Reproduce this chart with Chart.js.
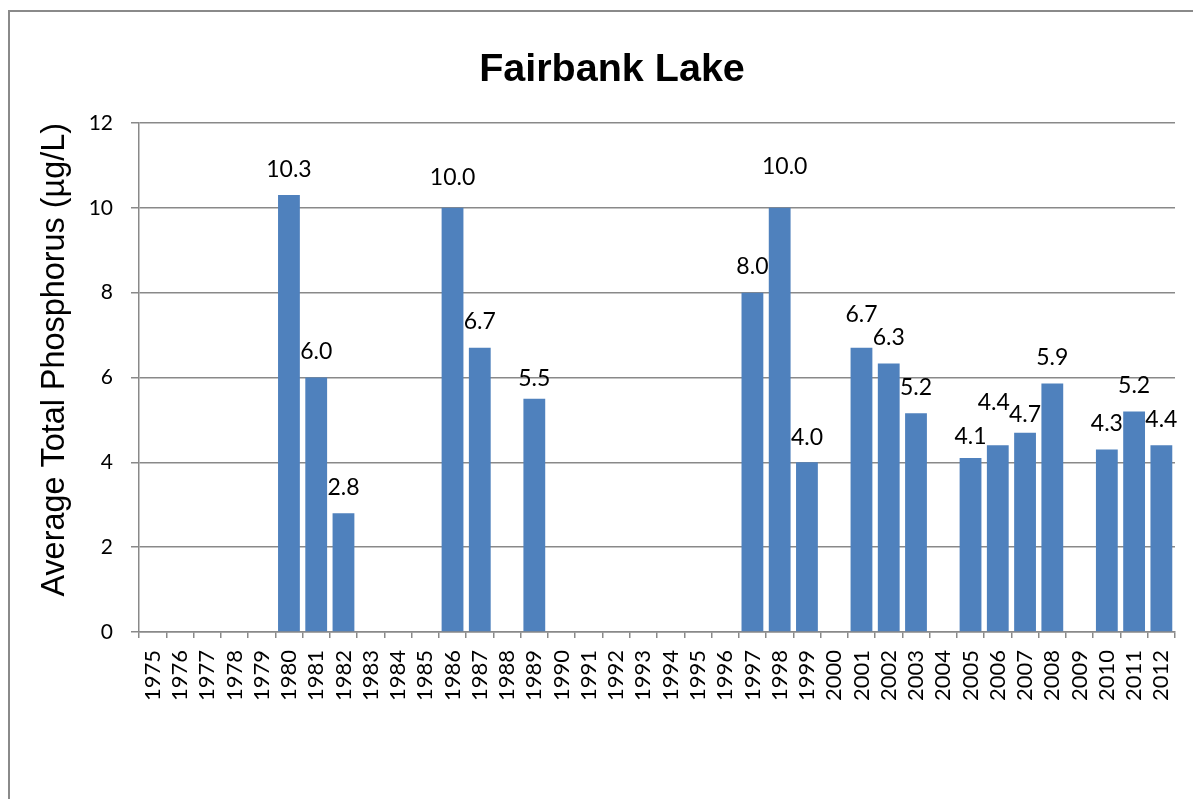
<!DOCTYPE html>
<html>
<head>
<meta charset="utf-8">
<script src="https://cdn.jsdelivr.net/npm/chart.js@4/dist/chart.umd.min.js"></script>
<style>
  html, body { margin: 0; padding: 0; background: #fff; overflow: hidden; }
  #frame { position: absolute; left: 8px; top: 10px; width: 1300px; height: 900px; border: 2px solid #8a8a8a; }
  #wrap { position: absolute; left: 0; top: 0; width: 1224px; height: 799px; }
</style>
</head>
<body>
<div id="frame"></div>
<div id="wrap"><canvas id="myChart"></canvas></div>
<script>
// data
const years = [
  "1975", "1976", "1977", "1978", "1979", "1980", "1981", "1982", "1983", "1984",
  "1985", "1986", "1987", "1988", "1989", "1990", "1991", "1992", "1993", "1994",
  "1995", "1996", "1997", "1998", "1999", "2000", "2001", "2002", "2003", "2004",
  "2005", "2006", "2007", "2008", "2009", "2010", "2011", "2012"
];
const phosphorus = [
  null, null, null, null, null, 10.3, 6.0, 2.8, null, null,
  null, 10.0, 6.7, null, 5.5, null, null, null, null, null,
  null, null, 8.0, 10.0, 4.0, null, 6.7, 6.33, 5.16, null,
  4.1, 4.4, 4.7, 5.86, null, 4.3, 5.2, 4.4
];
const yTicks = [0, 2, 4, 6, 8, 10, 12];

const gridGrey = "#898989";

// value labels above the bars
const valueLabels = {
    id: "valueLabels",
    afterDatasetsDraw(chart, args, opts) {
        const ctx = chart.ctx;
        const meta = chart.getDatasetMeta(0);
        ctx.save();
        ctx.font = "23px Lato";
        ctx.fillStyle = "#000";
        ctx.textAlign = "center";
        ctx.textBaseline = "middle";
        meta.data.forEach(function(bar, i) {
            const v = chart.data.datasets[0].data[i];
            if (v === null) return;
            const nudge = opts.nudge[chart.data.labels[i]] || [0, 0];
            ctx.fillText(v.toFixed(1), bar.x + nudge[0], bar.y - opts.offset + nudge[1]);
        });
        ctx.restore();
    }
};

const ctx = document.getElementById("myChart").getContext("2d");
const myChart = new Chart(ctx, {
    type: "bar",
    data: {
        labels: years,
        datasets: [
            {
                label: "Average Total Phosphorus",
                data: phosphorus,
                backgroundColor: "#4F81BD",
                barPercentage: 0.8,
                categoryPercentage: 1.0
            }
        ]
    },
    plugins: [valueLabels],
    options: {
        responsive: true,
        maintainAspectRatio: false,
        animation: false,
        layout: { padding: 0 },
        plugins: {
            legend: { display: false },
            tooltip: { enabled: false },
            title: {
                display: true,
                text: "Fairbank Lake",
                color: "#000",
                font: { family: "Liberation Sans", size: 39.5, weight: "bold" },
                padding: { top: 46, bottom: 29.6 }
            },
            valueLabels: {
                offset: 26,
                // label shifts [dx, dy] where the labels were moved apart
                nudge: {
                    "1986": [0, -4], "1989": [0, 6], "1998": [5, -15], "1999": [0, 1],
                    "2001": [0, -7], "2005": [0, 4], "2006": [-4, -17], "2007": [0, 8]
                }
            }
        },
        scales: {
            x: {
                grid: {
                    offset: true,
                    drawOnChartArea: false,
                    drawTicks: true,
                    tickLength: 6,
                    color: gridGrey,
                    lineWidth: 1.5
                },
                border: { color: gridGrey, width: 1.5 },
                ticks: {
                    autoSkip: false,
                    minRotation: 90,
                    maxRotation: 90,
                    padding: 12,
                    color: "#000",
                    font: { family: "Lato", size: 22 }
                },
                afterFit: function(scale) { scale.height = 167; }
            },
            y: {
                min: 0,
                max: 12,
                afterBuildTicks: function(scale) {
                    scale.ticks = yTicks.map(function(v) { return { value: v }; });
                },
                grid: { color: gridGrey, lineWidth: 1.5, tickLength: 8 },
                border: { color: gridGrey, width: 1.5 },
                ticks: {
                    padding: 18,
                    color: "#000",
                    font: { family: "Lato", size: 21 }
                },
                title: {
                    display: true,
                    align: "end",
                    text: "Average Total Phosphorus (µg/L)",
                    color: "#000",
                    font: { family: "Liberation Sans", size: 32.4 },
                    padding: { top: 36, bottom: 0 }
                },
                afterFit: function(scale) { scale.width = 139; }
            },
            // empty space on the right so the title centres on the whole frame
            spacer: {
                position: "right",
                display: true,
                grid: { display: false },
                border: { display: false },
                ticks: { display: false },
                afterFit: function(scale) { scale.width = 49; }
            }
        }
    }
});
</script>
</body>
</html>
